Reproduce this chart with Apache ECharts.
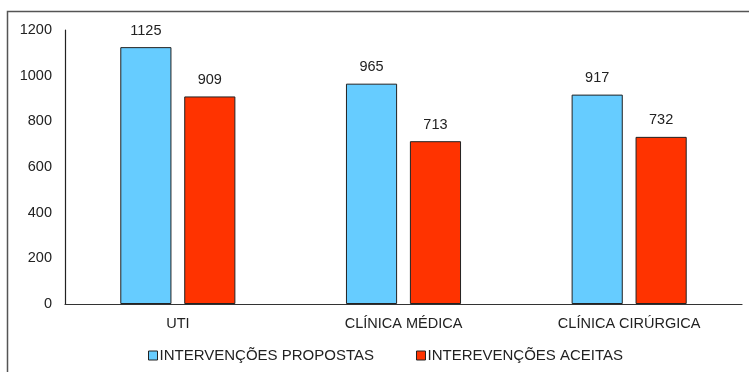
<!DOCTYPE html>
<html><head><meta charset="utf-8">
<script src="https://cdn.jsdelivr.net/npm/echarts@6/dist/echarts.min.js"></script>
<style>html,body{margin:0;padding:0;background:#fff}#c{width:749px;height:372px}</style>
</head><body><div id="c"></div>
<script>
const categories = ['UTI', 'CLÍNICA MÉDICA', 'CLÍNICA CIRÚRGICA'];
const propostas = [1125, 965, 917];
const aceitas = [909, 713, 732];
const seriesNames = ['INTERVENÇÕES PROPOSTAS', 'INTEREVENÇÕES ACEITAS'];
const yTicks = [0, 200, 400, 600, 800, 1000, 1200];

const chart = echarts.init(document.getElementById('c'), null, {renderer: 'canvas'});
const font = 'Liberation Sans, Arial, sans-serif';
const fs = 14.5;
chart.setOption({
  animation: false,
  backgroundColor: '#fff',
  textStyle: {fontFamily: font},
  graphic: [{type: 'rect', shape: {x: 7.5, y: 11.5, width: 760, height: 400}, style: {fill: 'none', stroke: '#555', lineWidth: 1.5}, z: -1}],
  grid: {left: 65, right: 7, top: 30, bottom: 68},
  legend: {
    bottom: 4, left: 143, itemWidth: 9, itemHeight: 9, itemGap: 42,
    textStyle: {fontSize: 15, color: '#222', fontFamily: font, padding: [0, 0, 0, -3]},
    itemStyle: {borderColor: '#222', borderWidth: 1},
    data: seriesNames.map(n => ({name: n, icon: 'rect'}))
  },
  xAxis: {
    type: 'category', data: categories,
    axisLine: {lineStyle: {color: '#333', width: 1.2}},
    axisTick: {show: false},
    axisLabel: {fontSize: fs, color: '#222', margin: 12, fontFamily: font}
  },
  yAxis: {
    type: 'value', min: yTicks[0], max: yTicks[yTicks.length - 1], interval: 200,
    axisLine: {show: true, lineStyle: {color: '#222', width: 1.2}},
    axisTick: {show: false},
    splitLine: {show: false},
    axisLabel: {fontSize: fs, color: '#222', margin: 13, fontFamily: font, formatter: v => String(v)}
  },
  series: [
    {name: seriesNames[0], type: 'bar', data: propostas, barGap: '25%', barCategoryGap: '49%',
     itemStyle: {color: '#66CCFF', borderColor: '#222', borderWidth: 1},
     label: {show: true, position: 'top', distance: 9, fontSize: fs, color: '#222', fontFamily: font}},
    {name: seriesNames[1], type: 'bar', data: aceitas,
     itemStyle: {color: '#FF3300', borderColor: '#222', borderWidth: 1},
     label: {show: true, position: 'top', distance: 9, fontSize: fs, color: '#222', fontFamily: font}}
  ]
});
</script></body></html>
